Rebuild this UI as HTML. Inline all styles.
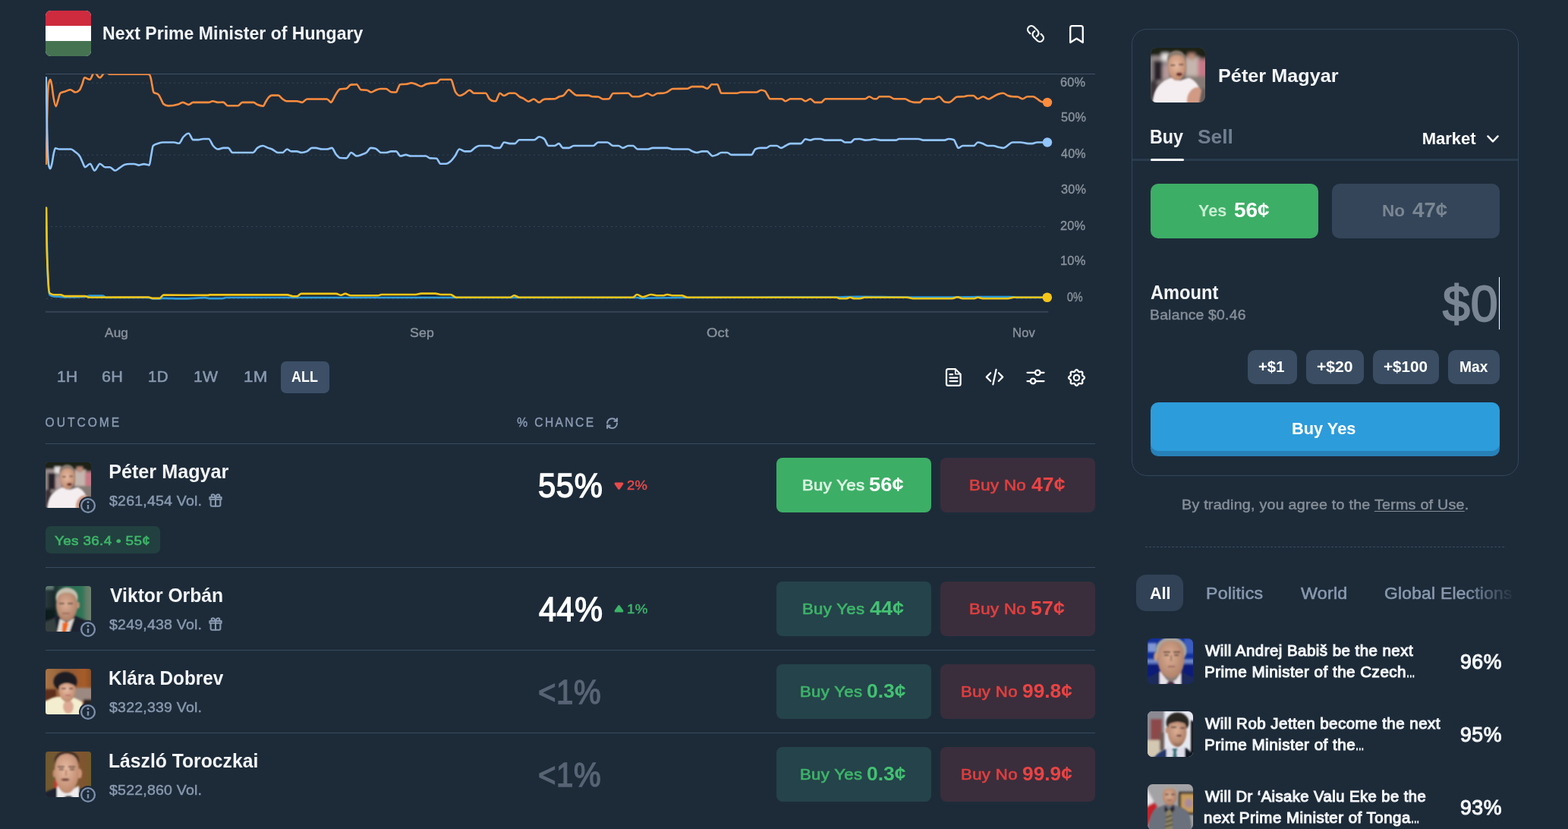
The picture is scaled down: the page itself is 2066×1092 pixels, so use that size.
<!DOCTYPE html>
<html lang="en">
<head>
<meta charset="utf-8">
<title>Next Prime Minister of Hungary</title>
<style>
*{box-sizing:border-box;margin:0;padding:0}
html,body{background:#1d2b39}
body{width:2066px;height:1092px;font-family:"Liberation Sans",sans-serif;color:#fff;-webkit-font-smoothing:antialiased}
.page{position:relative;width:2066px;height:1092px;overflow:hidden;background:#1d2b39}
.a{position:absolute}
.t{position:absolute;white-space:nowrap;line-height:1;transform-origin:0 0}
.b{font-weight:700}
.hl{position:absolute;height:1px;background:#394b5f}
svg{position:absolute;overflow:visible}
.ic{fill:none;stroke:#fff;stroke-linecap:round;stroke-linejoin:round}
</style>
</head>
<body>
<div class="page">
<svg width="0" height="0" style="left:0;top:0" aria-hidden="true">
<defs>
<clipPath id="c60"><rect width="60" height="60" rx="3.500"/></clipPath>
<clipPath id="c60b"><rect width="60" height="60" rx="6.500"/></clipPath>
<filter id="bl" x="-10%" y="-10%" width="120%" height="120%"><feGaussianBlur stdDeviation="0.9"/></filter>
<filter id="bl2" x="-10%" y="-10%" width="120%" height="120%"><feGaussianBlur stdDeviation="1.600"/></filter>
<radialGradient id="skin1" cx="45%" cy="40%" r="65%"><stop offset="0" stop-color="#e8bba2"/><stop offset="1" stop-color="#b98468"/></radialGradient>
<radialGradient id="skin2" cx="45%" cy="40%" r="65%"><stop offset="0" stop-color="#dcae94"/><stop offset="1" stop-color="#a87a62"/></radialGradient>
<linearGradient id="g2" x1="0" x2="1" y1="0" y2="0"><stop offset="0" stop-color="#2a3a3c"/><stop offset="0.18" stop-color="#1a2a2c"/><stop offset="0.45" stop-color="#296650"/><stop offset="0.8" stop-color="#2f7658"/><stop offset="0.9" stop-color="#5f7c66"/><stop offset="1" stop-color="#6f8270"/></linearGradient>
<linearGradient id="g3" x1="0" x2="1" y1="0" y2="0"><stop offset="0" stop-color="#a87446"/><stop offset="0.5" stop-color="#8f5a36"/><stop offset="0.85" stop-color="#a75c28"/><stop offset="1" stop-color="#8a5028"/></linearGradient>
<linearGradient id="g4" x1="0" x2="1" y1="0" y2="0"><stop offset="0" stop-color="#6f5830"/><stop offset="0.5" stop-color="#7a5c38"/><stop offset="0.85" stop-color="#80542e"/><stop offset="1" stop-color="#705c2a"/></linearGradient>
</defs>
</svg>
<!-- header -->
<div class="a" style="left:60px;top:14px;width:60px;height:60px;border-radius:7px;overflow:hidden;background:#fff"><div class="a" style="left:0;top:0;width:60px;height:20px;background:#ce2b3f"></div><div class="a" style="left:0;top:40px;width:60px;height:20px;background:#457352"></div></div>
<div class="t b" style="left:134.6px;top:33px;font-size:23.3px;color:#f4f6fa;transform:scaleX(0.9895);">Next Prime Minister of Hungary</div>
<svg style="left:1352px;top:32px" width="25" height="25" viewBox="0 0 25 25"><path class="ic" stroke-width="2.100" transform="translate(12.500 12.500) scale(-1.067 1.067) translate(-12 -12)" d="M13.190 8.688a4.500 4.500 0 0 1 1.242 7.244l-4.500 4.500a4.500 4.500 0 0 1-6.364-6.364l1.757-1.757m13.350-.622 1.757-1.757a4.500 4.500 0 0 0-6.364-6.364l-4.500 4.500a4.500 4.500 0 0 0 1.242 7.244"/></svg>
<svg style="left:1408px;top:32px" width="21" height="26" viewBox="0 0 21 26"><path class="ic" stroke-width="2.300" d="M2.250 24V4.500a2.400 2.400 0 0 1 2.400-2.400h11.700a2.400 2.400 0 0 1 2.400 2.400V24l-8.250-5.300z"/></svg>
<!-- chart -->
<svg style="left:0;top:0" width="1460" height="460" viewBox="0 0 1460 460">
<defs><clipPath id="cc"><rect x="60" y="97.500" width="1335" height="312"/></clipPath></defs>
<line x1="60" y1="97.500" x2="1443" y2="97.500" stroke="#415266" stroke-width="1"/>
<line x1="61" y1="109.3" x2="1381" y2="109.3" stroke="#46566a" stroke-width="1" stroke-dasharray="2 4" opacity="0.6"/>
<line x1="61" y1="204.2" x2="1381" y2="204.2" stroke="#46566a" stroke-width="1" stroke-dasharray="2 4" opacity="0.6"/>
<line x1="61" y1="298.5" x2="1381" y2="298.5" stroke="#46566a" stroke-width="1" stroke-dasharray="2 4" opacity="0.6"/>
<line x1="61" y1="393.3" x2="1381" y2="393.3" stroke="#46566a" stroke-width="1" stroke-dasharray="2 4" opacity="0.6"/>
<line x1="60" y1="410.800" x2="1381.300" y2="410.800" stroke="#344456" stroke-width="2"/>
<g clip-path="url(#cc)" fill="none" stroke-width="2.600" stroke-linejoin="round" stroke-linecap="round">
<path stroke="#2d9cdb" stroke-width="2.700" d="M61 273.9C61.33 294.47 61.67 315.05 62 330C62.5 352.43 63 363.75 63.5 372C64.17 383 64.83 388.02 65.5 388.5C67.33 389.83 69.17 390.38 71 390.5C74 390.7 77 390.6 80 390.8C81.67 390.91 83.33 391.5 85 391.5C94 391.5 103 391.33 112 391C114 390.93 116 389.6 118 389.6C123.67 389.6 129.33 389.6 135 389.6C136.67 389.6 138.33 391.8 140 391.8C158.33 391.8 176.67 391.8 195 391.8C197 391.8 199 393.3 201 393.3C204 393.3 207 393.3 210 393.3C211.67 393.3 213.33 392.8 215 392.8C223.33 392.8 231.67 393.4 240 393.4C250 393.4 260 392.2 270 392.2C272.33 392.2 274.67 393.2 277 393.2C282.33 393.2 287.67 393.2 293 393.2C294.67 393.2 296.33 392 298 392C398.67 392 499.33 392 600 392C680 392 760 392 840 392C841.67 392 843.33 393 845 393C848.33 393 851.67 392.57 855 392.5C871.67 392.17 888.33 392.09 905 392C970 391.67 1035 391.83 1100 391.5C1110 391.45 1120 390.8 1130 390.8C1151.67 390.8 1173.33 391.5 1195 391.5C1198.33 391.5 1201.67 391.5 1205 391.5C1221.67 391.5 1238.33 391.5 1255 391.5C1266.67 391.5 1278.33 391 1290 391C1303.33 391 1316.67 391 1330 391C1333.33 391 1336.67 391.8 1340 391.8C1353.33 391.8 1366.67 391.8 1380 391.8"/>
<path stroke="#f5c518" d="M60.9 273.9C61.13 290.08 61.37 306.27 61.6 318.6C62.1 345.03 62.6 351.82 63.1 362.5C63.83 378.17 64.57 385.44 65.3 386C67.23 387.47 69.17 388.2 71.1 388.2C74.03 388.2 76.97 388.2 79.9 388.2C81.6 388.2 83.3 390.1 85 390.1C94.03 390.1 103.07 390.1 112.1 390.1C114.07 390.1 116.03 391.8 118 391.8C143.87 391.8 169.73 391.5 195.6 391.5C197.57 391.5 199.53 392.9 201.5 392.9C204.43 392.9 207.37 392.9 210.3 392.9C212 392.9 213.7 388.6 215.4 388.6C235.27 388.6 255.13 388.9 275 388.9C275.17 388.9 275.33 388.4 275.5 388.4C309.83 388.4 344.17 388.4 378.5 388.4C380.97 388.4 383.43 390.2 385.9 390.2C387.73 390.2 389.57 390.2 391.4 390.2C393.23 390.2 395.07 386.9 396.9 386.9C412.23 386.9 427.57 386.9 442.9 386.9C445.03 386.9 447.17 388.8 449.3 388.8C451.13 388.8 452.97 386.9 454.8 386.9C457.27 386.9 459.73 389.3 462.2 389.3C474.17 389.3 486.13 389.3 498.1 389.3C499.63 389.3 501.17 388 502.7 388C517.7 388 532.7 388 547.7 388C550.17 388 552.63 386.6 555.1 386.6C561.23 386.6 567.37 386.6 573.5 386.6C575.93 386.6 578.37 388 580.8 388C585.1 388 589.4 388 593.7 388C596.17 388 598.63 391.7 601.1 391.7C617.4 391.7 633.7 391.7 650 391.7C650.03 391.7 650.07 391.7 650.1 391.7C657.43 391.7 664.77 391.7 672.1 391.7C673.93 391.7 675.77 389.3 677.6 389.3C679.73 389.3 681.87 391.7 684 391.7C733.97 391.7 783.93 391.7 833.9 391.7C835.73 391.7 837.57 388 839.4 388C841.87 388 844.33 391.2 846.8 391.2C850.47 391.2 854.13 388 857.8 388C860.87 388 863.93 389.3 867 389.3C869.17 389.3 871.33 389.3 873.5 389.3C875.33 389.3 877.17 388 879 388C881.77 388 884.53 389.3 887.3 389.3C890.97 389.3 894.63 389.3 898.3 389.3C900.77 389.3 903.23 391.7 905.7 391.7C947.13 391.7 988.57 391.7 1030 391.7C1030.03 391.7 1030.07 391.7 1030.1 391.7C1053.97 391.7 1077.83 391.7 1101.7 391.7C1103.53 391.7 1105.37 393.2 1107.2 393.2C1109.67 393.2 1112.13 393.2 1114.6 393.2C1116.43 393.2 1118.27 391.7 1120.1 391.7C1121.93 391.7 1123.77 393.2 1125.6 393.2C1128.07 393.2 1130.53 393.2 1133 393.2C1135.13 393.2 1137.27 391.7 1139.4 391.7C1158.1 391.7 1176.8 391.7 1195.5 391.7C1197.97 391.7 1200.43 393.2 1202.9 393.2C1220.07 393.2 1237.23 393.2 1254.4 393.2C1256.83 393.2 1259.27 391.2 1261.7 391.2C1263.87 391.2 1266.03 393.2 1268.2 393.2C1273.4 393.2 1278.6 393.2 1283.8 393.2C1285.33 393.2 1286.87 391.7 1288.4 391.7C1290.57 391.7 1292.73 393.2 1294.9 393.2C1305.93 393.2 1316.97 393.2 1328 393.2C1330.43 393.2 1332.87 391.7 1335.3 391.7C1350.03 391.7 1364.77 391.7 1379.5 391.7"/>
<path stroke="#ff8c3d" d="M60.8 215.7C61.1 199.13 61.4 182.57 61.7 168.9C62.03 153.71 62.37 139.66 62.7 130.5C63.2 116.77 63.7 112.33 64.2 109.9C64.9 106.5 65.6 104.8 66.3 104.8C66.9 104.8 67.5 108.09 68.1 111.2C68.87 115.17 69.63 123.44 70.4 127.9C71.47 134.11 72.53 140.1 73.6 140.1C74.47 140.1 75.33 135.54 76.2 133C77.27 129.87 78.33 123.57 79.4 122.8C81.53 121.27 83.67 121.22 85.8 120.5C88.13 119.71 90.47 118.3 92.8 118.3C94.93 118.3 97.07 121.5 99.2 121.5C101.13 121.5 103.07 120.43 105 118.3C106.07 117.12 107.13 113.87 108.2 111.2C109.27 108.53 110.33 102.3 111.4 102.3C113.77 102.3 116.13 104.8 118.5 104.8C119.77 104.8 121.03 100.28 122.3 97.8C122.73 96.95 123.17 95.2 123.6 95.2C124.23 95.2 124.87 95.2 125.5 95.2C126.03 95.2 126.57 97.02 127.1 97.8C128.57 99.95 130.03 102.3 131.5 102.3C132.93 102.3 134.37 99.62 135.8 97.8C136.43 97 137.07 95.2 137.7 95.2C138.97 95.2 140.23 95.2 141.5 95.2C142.17 95.2 142.83 97.6 143.5 97.6C160.57 97.6 177.63 97.6 194.7 97.6C195.37 97.6 196.03 97.8 196.7 98.2C197.33 98.58 197.97 99.92 198.6 102.3C199.23 104.68 199.87 109.3 200.5 112.5C201.13 115.7 201.77 120.87 202.4 121.5C204.53 123.63 206.67 122.57 208.8 124.7C209.9 125.8 211 128.43 212.1 130.5C213.17 132.51 214.23 136.07 215.3 136.9C217.43 138.57 219.57 139.4 221.7 139.4C225.97 139.4 230.23 138.77 234.5 137.5C236.63 136.87 238.77 134.9 240.9 134.9C243.47 134.9 246.03 137.9 248.6 137.9C250.53 137.9 252.47 134.9 254.4 134.9C261.27 134.9 268.13 134.9 275 134.9C276.7 134.9 278.4 133.3 280.1 133.3C282.47 133.3 284.83 134.9 287.2 134.9C289.53 134.9 291.87 134.6 294.2 134.6C296.13 134.6 298.07 139.2 300 139.2C304.5 139.2 309 139.2 313.5 139.2C315.4 139.2 317.3 134.9 319.2 134.9C324.13 134.9 329.07 134.9 334 134.9C335.7 134.9 337.4 137.05 339.1 137.8C341.67 138.93 344.23 139.7 346.8 139.7C347.87 139.7 348.93 136.05 350 134.3C351.07 132.55 352.13 130.53 353.2 129.2C354.9 127.07 356.6 125.6 358.3 125.6C361.1 125.6 363.9 125.6 366.7 125.6C368.6 125.6 370.5 129.19 372.4 130.5C374.13 131.7 375.87 133.3 377.6 133.3C382.07 133.3 386.53 133.3 391 133.3C393.37 133.3 395.73 134.9 398.1 134.9C400.23 134.9 402.37 130.5 404.5 130.5C413.27 130.5 422.03 130.5 430.8 130.5C432.63 130.5 434.47 134.9 436.3 134.9C437.23 134.9 438.17 132.12 439.1 130.5C439.97 129 440.83 127.08 441.7 125.6C443.83 121.95 445.97 117.81 448.1 117.4C450.87 116.87 453.63 117.13 456.4 116.6C458.33 116.23 460.27 111.8 462.2 111.6C464.77 111.33 467.33 111.2 469.9 111.2C471.8 111.2 473.7 118.1 475.6 118.3C478.17 118.57 480.73 118.43 483.3 118.7C485.23 118.9 487.17 121.5 489.1 121.5C491.07 121.5 493.03 119.44 495 118.7C497.13 117.9 499.27 117 501.4 117C503.77 117 506.13 117 508.5 117C510.83 117 513.17 120.98 515.5 121.2C517.63 121.4 519.77 121.5 521.9 121.5C522.77 121.5 523.63 118.12 524.5 116.4C525.37 114.68 526.23 111.28 527.1 111.2C530.07 110.93 533.03 111.07 536 110.8C537.93 110.63 539.87 109.3 541.8 109.3C543.73 109.3 545.67 110.19 547.6 110.8C550.17 111.61 552.73 113.8 555.3 113.8C557.43 113.8 559.57 111.5 561.7 110.8C563.83 110.1 565.97 109.78 568.1 109.6C570.43 109.4 572.77 109.5 575.1 109.3C576.83 109.15 578.57 104.8 580.3 104.8C585 104.8 589.7 104.8 594.4 104.8C595.47 104.8 596.53 110.71 597.6 113.8C598.43 116.21 599.27 119.82 600.1 121.2C602.03 124.4 603.97 126 605.9 126C608.03 126 610.17 124.42 612.3 123.2C614.43 121.98 616.57 118.7 618.7 118.7C620.63 118.7 622.57 122.8 624.5 122.8C629.63 122.8 634.77 122.8 639.9 122.8C641.6 122.8 643.3 128.86 645 130.5C646.93 132.37 648.87 133.3 650.8 133.3C651.63 133.3 652.47 133.3 653.3 133.3C654.17 133.3 655.03 129.65 655.9 127.9C656.77 126.15 657.63 122.8 658.5 122.8C660.4 122.8 662.3 126 664.2 126C666.57 126 668.93 122.8 671.3 122.8C673.63 122.8 675.97 122.8 678.3 122.8C680.43 122.8 682.57 126.28 684.7 127.5C686.43 128.49 688.17 128.9 689.9 129.8C692.03 130.9 694.17 133.7 696.3 133.7C698.63 133.7 700.97 130.5 703.3 130.5C705.67 130.5 708.03 134.9 710.4 134.9C711.93 134.9 713.47 132.48 715 131.7C716.07 131.16 717.13 130.55 718.2 130.5C722.47 130.3 726.73 130.4 731 130.2C732.93 130.11 734.87 128.07 736.8 127.3C738.73 126.53 740.67 126.73 742.6 125.6C744.93 124.23 747.27 118.3 749.6 118.3C750.9 118.3 752.2 120.26 753.5 121.2C755.63 122.74 757.77 125.6 759.9 125.6C765.03 125.6 770.17 125.6 775.3 125.6C777 125.6 778.7 127.21 780.4 127.3C782.97 127.43 785.53 127.37 788.1 127.5C790.23 127.61 792.37 130.5 794.5 130.5C797.07 130.5 799.63 130.4 802.2 130.2C804.1 130.05 806 123.04 807.9 123C814.53 122.87 821.17 122.8 827.8 122.8C829.73 122.8 831.67 127.3 833.6 127.3C836.17 127.3 838.73 127.3 841.3 127.3C843.23 127.3 845.17 126.33 847.1 125.6C849 124.89 850.9 123 852.8 123C855.17 123 857.53 126 859.9 126C862.03 126 864.17 123.11 866.3 123C868.87 122.87 871.43 122.93 874 122.8C875.7 122.71 877.4 121.93 879.1 121.2C881.47 120.18 883.83 117.07 886.2 117C892.8 116.8 899.4 116.9 906 116.7C907.93 116.64 909.87 114.1 911.8 114.1C916.3 114.1 920.8 114.1 925.3 114.1C927.43 114.1 929.57 116.7 931.7 116.7C932.8 116.7 933.9 115.17 935 114.1C935.87 113.26 936.73 111.2 937.6 111.2C940.17 111.2 942.73 111.2 945.3 111.2C946.13 111.2 946.97 115.1 947.8 117C948.67 118.97 949.53 122.8 950.4 122.8C957.23 122.8 964.07 122.8 970.9 122.8C972.6 122.8 974.3 121.5 976 121.5C982.83 121.5 989.67 121.5 996.5 121.5C998.63 121.5 1000.77 118.7 1002.9 118.7C1004.63 118.7 1006.37 119.2 1008.1 120.2C1009.17 120.82 1010.23 123.63 1011.3 125.3C1012.37 126.97 1013.43 130.2 1014.5 130.2C1019.63 130.2 1024.77 130.2 1029.9 130.2C1031.6 130.2 1033.3 133.3 1035 133.3C1037.13 133.3 1039.27 130.2 1041.4 130.2C1046.1 130.2 1050.8 130.2 1055.5 130.2C1057.43 130.2 1059.37 133.3 1061.3 133.3C1063.43 133.3 1065.57 130.2 1067.7 130.2C1069.83 130.2 1071.97 134.9 1074.1 134.9C1076.67 134.9 1079.23 134.9 1081.8 134.9C1083.73 134.9 1085.67 130.2 1087.6 130.2C1105.1 130.2 1122.6 130.2 1140.1 130.2C1141.83 130.2 1143.57 127.3 1145.3 127.3C1147.43 127.3 1149.57 130.2 1151.7 130.2C1152.8 130.2 1153.9 130.2 1155 130.2C1156.27 130.2 1157.53 127.3 1158.8 127.3C1163.1 127.3 1167.4 127.3 1171.7 127.3C1173.83 127.3 1175.97 130.2 1178.1 130.2C1182.8 130.2 1187.5 130.2 1192.2 130.2C1194.33 130.2 1196.47 132.52 1198.6 133.3C1200.73 134.08 1202.87 134.9 1205 134.9C1207.13 134.9 1209.27 134.9 1211.4 134.9C1213.33 134.9 1215.27 130.2 1217.2 130.2C1221.67 130.2 1226.13 130.2 1230.6 130.2C1232.77 130.2 1234.93 127.3 1237.1 127.3C1239.63 127.3 1242.17 133.78 1244.7 134.3C1246.63 134.7 1248.57 134.9 1250.5 134.9C1254.13 134.9 1257.77 127.69 1261.4 127.5C1263.97 127.37 1266.53 127.43 1269.1 127.3C1271.23 127.19 1273.37 126 1275.5 126C1277.87 126 1280.23 126 1282.6 126C1284.5 126 1286.4 130.2 1288.3 130.2C1290.67 130.2 1293.03 127.3 1295.4 127.3C1297.73 127.3 1300.07 130.5 1302.4 130.5C1304.53 130.5 1306.67 128.36 1308.8 127.3C1310.97 126.22 1313.13 124.85 1315.3 124.1C1317.43 123.36 1319.57 122.8 1321.7 122.8C1323.83 122.8 1325.97 125.25 1328.1 126C1330.23 126.75 1332.37 127.17 1334.5 127.3C1336.63 127.43 1338.77 127.37 1340.9 127.5C1343.03 127.63 1345.17 130.2 1347.3 130.2C1349.43 130.2 1351.57 127.3 1353.7 127.3C1356.27 127.3 1358.83 127.3 1361.4 127.3C1363.1 127.3 1364.8 129.18 1366.5 130.2C1368.63 131.48 1370.77 133.94 1372.9 134.3C1375.27 134.7 1377.63 134.8 1380 134.9"/>
<path stroke="#92c5fd" d="M60.8 102.3C61.1 121.75 61.4 141.19 61.7 156.1C62.03 172.67 62.37 184.86 62.7 194.6C63.2 209.22 63.7 215.46 64.2 217.6C64.9 220.6 65.6 222.1 66.3 222.1C67.03 222.1 67.77 218.28 68.5 215.1C69.33 211.49 70.17 204.47 71 201C71.63 198.36 72.27 195.2 72.9 195.2C74.63 195.2 76.37 196.5 78.1 196.5C83.23 196.5 88.37 196.5 93.5 196.5C95.2 196.5 96.9 198.37 98.6 199.7C100.93 201.53 103.27 202.42 105.6 206.7C106.67 208.66 107.73 211.58 108.8 213.8C109.9 216.09 111 220.2 112.1 220.2C114.3 220.2 116.5 215.7 118.7 215.7C120.67 215.7 122.63 224.7 124.6 224.7C126.97 224.7 129.33 215.7 131.7 215.7C133.9 215.7 136.1 220.2 138.3 220.2C140.43 220.2 142.57 220.2 144.7 220.2C147.07 220.2 149.43 224.7 151.8 224.7C153.73 224.7 155.67 222.42 157.6 221.2C159.73 219.86 161.87 217.67 164 217C166.13 216.33 168.27 216 170.4 216C172.53 216 174.67 216 176.8 216C178.93 216 181.07 217.6 183.2 217.6C185.33 217.6 187.47 216.1 189.6 216.1C191.97 216.1 194.33 217.6 196.7 217.6C197.53 217.6 198.37 208.99 199.2 204.8C200.07 200.45 200.93 192.79 201.8 192C204.13 189.87 206.47 189.56 208.8 188.8C210.97 188.1 213.13 187.5 215.3 187.5C220 187.5 224.7 187.5 229.4 187.5C231.53 187.5 233.67 188.8 235.8 188.8C237.7 188.8 239.6 182.61 241.5 180.5C243.87 177.88 246.23 175.7 248.6 175.7C250.53 175.7 252.47 184.1 254.4 184.1C256.73 184.1 259.07 184.1 261.4 184.1C263.53 184.1 265.67 183 267.8 183C270.2 183 272.6 183 275 183C276.93 183 278.87 189.78 280.8 192C282.93 194.45 285.07 196.5 287.2 196.5C289.53 196.5 291.87 194.9 294.2 194.9C296.33 194.9 298.47 194.9 300.6 194.9C302.53 194.9 304.47 201 306.4 201C315.37 201 324.33 201 333.3 201C335.23 201 337.17 196.37 339.1 194.9C341.47 193.1 343.83 192 346.2 192C348.53 192 350.87 194.07 353.2 194.9C354.9 195.51 356.6 195.78 358.3 196.5C360.87 197.58 363.43 201 366 201C368.13 201 370.27 201 372.4 201C374.33 201 376.27 196.5 378.2 196.5C380.13 196.5 382.07 199.4 384 199.4C386.33 199.4 388.67 199.4 391 199.4C393.13 199.4 395.27 201 397.4 201C399.77 201 402.13 200.47 404.5 199.4C406.63 198.44 408.77 194.9 410.9 194.9C412.6 194.9 414.3 194.9 416 194.9C418.8 194.9 421.6 196.5 424.4 196.5C426.53 196.5 428.67 196.5 430.8 196.5C432.93 196.5 435.07 194.9 437.2 194.9C439.1 194.9 441 201.27 442.9 203.5C444.63 205.53 446.37 207.83 448.1 208C450.87 208.27 453.63 208.4 456.4 208.4C458.53 208.4 460.67 201 462.8 201C465.17 201 467.53 205.5 469.9 205.5C472.03 205.5 474.17 204.55 476.3 203.8C478.43 203.05 480.57 202.62 482.7 201C484.63 199.53 486.57 194.9 488.5 194.9C490.67 194.9 492.83 195.2 495 195.8C497.37 196.46 499.73 201 502.1 201C504.23 201 506.37 201 508.5 201C510.83 201 513.17 199.4 515.5 199.4C517.63 199.4 519.77 199.4 521.9 199.4C523.83 199.4 525.77 205.5 527.7 205.5C530.03 205.5 532.37 203.9 534.7 203.9C536.87 203.9 539.03 205.5 541.2 205.5C547.8 205.5 554.4 205.5 561 205.5C562.93 205.5 564.87 208.26 566.8 208.4C569.57 208.6 572.33 208.5 575.1 208.7C576.83 208.83 578.57 215.7 580.3 215.7C582.63 215.7 584.97 215.7 587.3 215.7C589.43 215.7 591.57 214.36 593.7 212.5C595.63 210.82 597.57 208.17 599.5 205.5C601.43 202.83 603.37 196.5 605.3 196.5C607.63 196.5 609.97 199.4 612.3 199.4C614.67 199.4 617.03 199.4 619.4 199.4C621.53 199.4 623.67 195.87 625.8 194.6C627.7 193.47 629.6 192 631.5 192C636 192 640.5 192 645 192C647.13 192 649.27 194.9 651.4 194.9C653.77 194.9 656.13 194.9 658.5 194.9C660.4 194.9 662.3 187.5 664.2 187.5C666.77 187.5 669.33 189.1 671.9 189.1C674.03 189.1 676.17 189.1 678.3 189.1C680.23 189.1 682.17 184.3 684.1 184.3C690.73 184.3 697.37 184.3 704 184.3C706.13 184.3 708.27 180.2 710.4 180.2C711.93 180.2 713.47 180.77 715 181.7C715.87 182.23 716.73 182.78 717.6 183.7C719.3 185.5 721 192 722.7 192C725.47 192 728.23 192 731 192C732.73 192 734.47 189.1 736.2 189.1C738.1 189.1 740 194.9 741.9 194.9C744.47 194.9 747.03 194.9 749.6 194.9C751.73 194.9 753.87 192 756 192C764.57 192 773.13 192 781.7 192C783.83 192 785.97 187.5 788.1 187.5C792.17 187.5 796.23 187.5 800.3 187.5C802.83 187.5 805.37 192 807.9 192C810.27 192 812.63 192 815 192C816.93 192 818.87 194.9 820.8 194.9C823.13 194.9 825.47 192 827.8 192C829.93 192 832.07 192 834.2 192C836.13 192 838.07 196.5 840 196.5C844.5 196.5 849 196.5 853.5 196.5C855.63 196.5 857.77 194.9 859.9 194.9C866.3 194.9 872.7 194.9 879.1 194.9C881.67 194.9 884.23 196.5 886.8 196.5C893.43 196.5 900.07 196.5 906.7 196.5C908.6 196.5 910.5 198.63 912.4 199.4C914.13 200.1 915.87 201 917.6 201C920.17 201 922.73 199.4 925.3 199.4C927.43 199.4 929.57 199.4 931.7 199.4C932.8 199.4 933.9 201.35 935 202.3C936.27 203.39 937.53 205.5 938.8 205.5C940.73 205.5 942.67 204.65 944.6 203.9C946.53 203.15 948.47 201 950.4 201C952.97 201 955.53 201 958.1 201C960 201 961.9 203.9 963.8 203.9C972.57 203.9 981.33 203.9 990.1 203.9C991.83 203.9 993.57 197.37 995.3 196.5C997.43 195.43 999.57 194.9 1001.7 194.9C1004.27 194.9 1006.83 194.9 1009.4 194.9C1011.3 194.9 1013.2 192 1015.1 192C1017.9 192 1020.7 192 1023.5 192C1025.4 192 1027.3 194.9 1029.2 194.9C1031.13 194.9 1033.07 192.92 1035 192C1037.13 190.98 1039.27 189.1 1041.4 189.1C1045.9 189.1 1050.4 189.1 1054.9 189.1C1057.03 189.1 1059.17 183.3 1061.3 183.3C1063.43 183.3 1065.57 184.6 1067.7 184.6C1069.63 184.6 1071.57 183 1073.5 183C1076.07 183 1078.63 183 1081.2 183C1083.1 183 1085 184.6 1086.9 184.6C1093.97 184.6 1101.03 184.6 1108.1 184.6C1109.8 184.6 1111.5 187.5 1113.2 187.5C1115.77 187.5 1118.33 187.5 1120.9 187.5C1122.6 187.5 1124.3 183.46 1126 183.3C1128.13 183.1 1130.27 183 1132.4 183C1134.97 183 1137.53 184.6 1140.1 184.6C1142.23 184.6 1144.37 184.5 1146.5 184.3C1148.23 184.14 1149.97 183.3 1151.7 183.3C1152.8 183.3 1153.9 183.54 1155 183.7C1156.7 183.94 1158.4 184.6 1160.1 184.6C1166.93 184.6 1173.77 184.6 1180.6 184.6C1181.9 184.6 1183.2 183 1184.5 183C1193.03 183 1201.57 183 1210.1 183C1212.23 183 1214.37 184.6 1216.5 184.6C1225.9 184.6 1235.3 184.6 1244.7 184.6C1246.43 184.6 1248.17 183 1249.9 183C1252.23 183 1254.57 183.43 1256.9 184.3C1257.9 184.67 1258.9 188.28 1259.9 190.1C1260.83 191.8 1261.77 194.9 1262.7 194.9C1264.63 194.9 1266.57 192 1268.5 192C1273.4 192 1278.3 192 1283.2 192C1284.9 192 1286.6 187.5 1288.3 187.5C1290.43 187.5 1292.57 188.36 1294.7 189.1C1296.87 189.85 1299.03 192 1301.2 192C1303.73 192 1306.27 192 1308.8 192C1310.97 192 1313.13 193.21 1315.3 193.7C1317.43 194.18 1319.57 194.9 1321.7 194.9C1325.97 194.9 1330.23 187.5 1334.5 187.5C1337.9 187.5 1341.3 187.5 1344.7 187.5C1348.13 187.5 1351.57 189.1 1355 189.1C1356.7 189.1 1358.4 189.1 1360.1 189.1C1362.23 189.1 1364.37 187.5 1366.5 187.5C1371 187.5 1375.5 187.5 1380 187.5"/>
</g>
<circle cx="1380" cy="134.900" r="6.200" fill="#ff8c3d"/><circle cx="1380" cy="187.500" r="6.200" fill="#92c5fd"/><circle cx="1379.800" cy="391.700" r="6.300" fill="#f5c518"/>
</svg>
<div class="t" style="left:1397.39px;top:100px;font-size:16.5px;color:#89929b;letter-spacing:0.18px;transform:scaleX(0.9905);-webkit-text-stroke:0.41px;">60%</div>
<div class="t" style="left:1397.55px;top:146px;font-size:16.5px;color:#89929b;letter-spacing:0.18px;transform:scaleX(0.9854);-webkit-text-stroke:0.41px;">50%</div>
<div class="t" style="left:1397.88px;top:194px;font-size:16.5px;color:#89929b;letter-spacing:0.18px;transform:scaleX(0.9754);-webkit-text-stroke:0.41px;">40%</div>
<div class="t" style="left:1397.64px;top:241px;font-size:16.5px;color:#89929b;letter-spacing:0.18px;transform:scaleX(0.9828);-webkit-text-stroke:0.41px;">30%</div>
<div class="t" style="left:1397.39px;top:289px;font-size:16.5px;color:#89929b;letter-spacing:0.18px;transform:scaleX(0.9905);-webkit-text-stroke:0.41px;">20%</div>
<div class="t" style="left:1396.96px;top:335px;font-size:16.5px;color:#89929b;letter-spacing:0.18px;-webkit-text-stroke:0.41px;">10%</div>
<div class="t" style="left:1405.61px;top:383px;font-size:16.5px;color:#89929b;letter-spacing:0.18px;transform:scaleX(0.8560);-webkit-text-stroke:0.41px;">0%</div>
<div class="t" style="left:137.81px;top:430px;font-size:17px;color:#89929b;letter-spacing:0.19px;transform:scaleX(1.0095);-webkit-text-stroke:0.43px;">Aug</div>
<div class="t" style="left:540.12px;top:430px;font-size:17px;color:#89929b;letter-spacing:0.19px;transform:scaleX(1.0414);-webkit-text-stroke:0.43px;">Sep</div>
<div class="t" style="left:931.18px;top:430px;font-size:17px;color:#89929b;letter-spacing:0.19px;transform:scaleX(1.0868);-webkit-text-stroke:0.43px;">Oct</div>
<div class="t" style="left:1333.99px;top:430px;font-size:17px;color:#89929b;letter-spacing:0.19px;transform:scaleX(0.9733);-webkit-text-stroke:0.43px;">Nov</div>
<!-- range buttons -->
<div class="t" style="left:74.68px;top:486px;font-size:20.3px;color:#8999af;letter-spacing:0.23px;transform:scaleX(1.0346);-webkit-text-stroke:0.51px;">1H</div>
<div class="t" style="left:134.27px;top:486px;font-size:20.3px;color:#8999af;letter-spacing:0.23px;transform:scaleX(1.0674);-webkit-text-stroke:0.51px;">6H</div>
<div class="t" style="left:194.61px;top:486px;font-size:20.3px;color:#8999af;letter-spacing:0.23px;transform:scaleX(1.0122);-webkit-text-stroke:0.51px;">1D</div>
<div class="t" style="left:254.56px;top:486px;font-size:20.3px;color:#8999af;letter-spacing:0.23px;transform:scaleX(1.0483);-webkit-text-stroke:0.51px;">1W</div>
<div class="t" style="left:320.58px;top:486px;font-size:20.3px;color:#8999af;letter-spacing:0.23px;transform:scaleX(1.1013);-webkit-text-stroke:0.51px;">1M</div>
<div class="a" style="left:370px;top:476px;width:64px;height:42px;background:#3c4f66;border-radius:7px;"></div>
<div class="t b" style="left:384.04px;top:486px;font-size:20.5px;transform:scaleX(0.8738);">ALL</div>
<svg style="left:1245px;top:484px" width="23" height="25" viewBox="0 0 23 25"><g class="ic" stroke-width="2.25"><path d="M4.4 2h9.2l7 7v12.4a2.4 2.4 0 0 1-2.4 2.4H4.4A2.4 2.4 0 0 1 2 21.4V4.4A2.4 2.4 0 0 1 4.400 2z"/><path d="M13.8 2.4v6.4h6.4" stroke-width="1.6"/><path d="M6.5 9.2h3.6M6.5 13.6h10M6.5 18h10"/></g></svg>
<svg style="left:1298px;top:485px" width="25" height="23" viewBox="0 0 25 23"><g class="ic" stroke-width="2.25"><path d="M7.2 6.2L1.8 11.6l5.4 5.4M17.8 6.2l5.4 5.400-5.400 5.400M14.600 1.800l-4.200 19.500"/></g></svg>
<svg style="left:1352px;top:485px" width="25" height="23" viewBox="0 0 25 23"><g class="ic" stroke-width="2.25"><path d="M1.500 5.800h9.800M19 5.800h4.500M1.500 17h4M12.500 17h11"/><circle cx="15.300" cy="5.800" r="3.300"/><circle cx="9.100" cy="17" r="3.300"/></g></svg>
<svg style="left:1406.100px;top:484.500px" width="25" height="25" viewBox="0 0 25 25"><g class="ic" stroke-width="2.25"><path d="M12.50 2.00 L13.50 2.39 L14.32 3.33 L14.98 4.33 L15.64 4.92 L16.52 4.97 L17.69 4.73 L18.95 4.64 L19.92 5.08 L20.36 6.05 L20.27 7.31 L20.03 8.48 L20.08 9.36 L20.67 10.02 L21.67 10.68 L22.61 11.50 L23.00 12.50 L22.61 13.50 L21.67 14.32 L20.67 14.98 L20.08 15.64 L20.03 16.52 L20.27 17.69 L20.36 18.95 L19.92 19.92 L18.95 20.36 L17.69 20.27 L16.52 20.03 L15.64 20.08 L14.98 20.67 L14.32 21.67 L13.50 22.61 L12.50 23.00 L11.50 22.61 L10.68 21.67 L10.02 20.67 L9.36 20.08 L8.48 20.03 L7.31 20.27 L6.05 20.36 L5.08 19.92 L4.64 18.95 L4.73 17.69 L4.97 16.52 L4.92 15.64 L4.33 14.98 L3.33 14.32 L2.39 13.50 L2.00 12.50 L2.39 11.50 L3.33 10.68 L4.33 10.02 L4.92 9.36 L4.97 8.48 L4.73 7.31 L4.64 6.05 L5.08 5.08 L6.05 4.64 L7.31 4.73 L8.48 4.97 L9.36 4.92 L10.02 4.33 L10.68 3.33 L11.50 2.39Z"/><circle cx="12.5" cy="12.5" r="3.700"/></g></svg>
<!-- outcome table -->
<div class="t" style="left:59.59px;top:549px;font-size:15.6px;color:#8b9bb3;letter-spacing:2.97px;-webkit-text-stroke:0.39px;">OUTCOME</div>
<div class="t" style="left:681.25px;top:549px;font-size:15.6px;color:#8b9bb3;letter-spacing:2.4px;-webkit-text-stroke:0.39px;">% CHANCE</div>
<svg style="left:797.800px;top:549px" width="17.200" height="17.200" viewBox="0 0 24 24"><g class="ic" style="stroke:#8b9bb3" stroke-width="2.800"><path d="M3 12a9 9 0 0 1 9-9 9.750 9.750 0 0 1 6.740 2.740L21 8"/><path d="M21 3v5h-5"/><path d="M21 12a9 9 0 0 1-9 9 9.750 9.750 0 0 1-6.740-2.740L3 16"/><path d="M8 16H3v5"/></g></svg>
<div class="hl" style="left:60px;top:584px;width:1383px"></div>
<div class="hl" style="left:60px;top:747px;width:1383px"></div>
<div class="hl" style="left:60px;top:856px;width:1383px"></div>
<div class="hl" style="left:60px;top:965px;width:1383px"></div>
<!-- row Péter Magyar -->
<svg style="left:60px;top:609px" width="60" height="60" viewBox="0 0 60 60"><g clip-path="url(#c60)"><rect width="60" height="60" fill="#6a5f5c"/><g filter="url(#bl2)"><rect x="-4" y="-4" width="68" height="15" fill="#1b2117"/><rect x="0" y="9" width="22" height="30" fill="#9a8e8e"/><rect x="3" y="14" width="10" height="22" fill="#25222b"/><rect x="12" y="6" width="8" height="8" fill="#e6e2e2"/><rect x="13" y="20" width="8" height="14" fill="#b59a9a"/><rect x="38" y="10" width="15" height="24" fill="#c4b6ae"/><rect x="41" y="6" width="8" height="7" fill="#b98a78"/><rect x="52" y="13" width="10" height="30" fill="#c77886"/><rect x="38" y="31" width="24" height="14" fill="#857a74"/><rect x="0" y="36" width="7" height="26" fill="#3a3338"/></g><g filter="url(#bl)"><path d="M2 62C3 46 9 38 22 33l10 3 10-3c6 2 9 6 12 12l-6 17z" fill="#f4eef0"/><path d="M40 62c-1-8 2-15 8-18 4-2 7 0 8 3l-3 15z" fill="#d19a84"/><ellipse cx="28.500" cy="12" rx="10" ry="9" fill="#8b7c70"/><path d="M29 8C36.35 8 38.8 12.9 38.8 20.6C38.8 28.3 34.39 36 29 36C23.61 36 19.2 28.3 19.2 20.6C19.2 12.9 21.65 8 29 8z" fill="url(#skin1)"/><ellipse cx="31.500" cy="29" rx="3.300" ry="2" fill="#6a2a2a"/><path d="M22 19h5M31 18.500h5" stroke="#5a4038" stroke-width="1.400"/></g></g></svg>
<svg style="left:103.600px;top:653.7px" width="24" height="24" viewBox="0 0 24 24"><circle cx="12" cy="12" r="12" fill="#1d2b39"/><circle cx="12" cy="12" r="8.900" fill="none" stroke="#7d8fab" stroke-width="2.300"/><path d="M12 11v5.700" stroke="#7d8fab" stroke-width="2.400" fill="none"/><circle cx="12" cy="7.500" r="1.500" fill="#7d8fab"/></svg>
<div class="t b" style="left:143.16px;top:609px;font-size:25.2px;color:#f4f6fa;">Péter Magyar</div>
<div class="t" style="left:144.13px;top:651px;font-size:18.5px;color:#8999af;letter-spacing:0.21px;transform:scaleX(1.0542);-webkit-text-stroke:0.46px;">$261,454 Vol.</div>
<svg style="left:274.800px;top:649.6px" width="18" height="18" viewBox="0 0 19 19"><g class="ic" style="stroke:#8999af" stroke-width="2.200"><path d="M2.800 8.200v8a1.400 1.400 0 0 0 1.400 1.400h10.600a1.400 1.400 0 0 0 1.400-1.400v-8"/><path d="M1.400 5.200h16.200v3H1.400zM9.500 5.200v12.400"/><path d="M9.500 5.200C8.500 2.600 7.200 1.400 5.800 1.400a1.900 1.900 0 0 0 0 3.800M9.500 5.200c1-2.600 2.300-3.800 3.700-3.800a1.900 1.900 0 0 1 0 3.800"/></g></svg>
<div class="t" style="left:708.93px;top:618px;font-size:43.7px;letter-spacing:0.63px;transform:scaleX(0.9557);-webkit-text-stroke:1.4px;">55%</div>
<svg style="left:809.200px;top:634.5px" width="13" height="11" viewBox="0 0 13 11"><path d="M2.100 2.100h8.800L6.500 8.500z" fill="#e84a4a" stroke="#e84a4a" stroke-width="3" stroke-linejoin="round"/></svg>
<div class="t" style="left:825.99px;top:631px;font-size:17.2px;color:#e84a4a;letter-spacing:0.19px;transform:scaleX(1.0749);-webkit-text-stroke:0.43px;">2%</div>
<div class="a" style="left:1023px;top:603px;width:204px;height:72px;background:#3dae66;border-radius:8px;"></div>
<div class="a" style="left:1239.4px;top:603px;width:203.6px;height:72px;background:#3a2e3c;border-radius:8px;"></div>
<div class="t" style="left:1056.88px;top:629px;font-size:20.8px;color:#dcf5e3;letter-spacing:0.32px;transform:scaleX(1.0642);-webkit-text-stroke:0.7px;">Buy Yes</div>
<div class="t b" style="left:1145.38px;top:626px;font-size:25.3px;transform:scaleX(1.0802);">56¢</div>
<div class="t" style="left:1277.27px;top:629px;font-size:20.8px;color:#e03f3f;letter-spacing:0.32px;transform:scaleX(1.0700);-webkit-text-stroke:0.7px;">Buy No</div>
<div class="t b" style="left:1358.5px;top:626px;font-size:25.3px;color:#ec4343;transform:scaleX(1.0533);">47¢</div>
<!-- row Viktor Orbán -->
<svg style="left:60px;top:772px" width="60" height="60" viewBox="0 0 60 60"><g clip-path="url(#c60)"><rect width="60" height="60" fill="url(#g2)"/><g filter="url(#bl2)"><rect x="-2" y="-3" width="13" height="8" fill="#5f7872"/><rect x="-3" y="30" width="16" height="16" fill="#0f1a1c"/></g><g filter="url(#bl)"><path d="M-2 62V47c6-3 12-5 17-8h24c6 3 13 6 23 9v14z" fill="#1c232e"/><path d="M-2 62V48c5-2 10-4 14-6l4 20z" fill="#363f40"/><path d="M15 62l4-19 9 5 10-6-7 20z" fill="#dedad4"/><path d="M22.500 48.500l5.500-1.500 2 3-3.500 12h-5z" fill="#f0691c"/><ellipse cx="28" cy="15" rx="14.500" ry="13" fill="#c4bfae"/><ellipse cx="42.500" cy="25" rx="2.300" ry="4.500" fill="#c4947c"/><path d="M28 8.5C38.5 8.5 42 15.15 42 25.6C42 36.05 35.7 46.5 28 46.5C20.3 46.5 14 36.05 14 25.6C14 15.15 17.5 8.5 28 8.5z" fill="url(#skin2)"/><path d="M18 23h7M29 23h7" stroke="#4a3530" stroke-width="1.600"/><path d="M22 36h10" stroke="#8a5a50" stroke-width="1.300"/></g></g></svg>
<svg style="left:103.600px;top:816.7px" width="24" height="24" viewBox="0 0 24 24"><circle cx="12" cy="12" r="12" fill="#1d2b39"/><circle cx="12" cy="12" r="8.900" fill="none" stroke="#7d8fab" stroke-width="2.300"/><path d="M12 11v5.700" stroke="#7d8fab" stroke-width="2.400" fill="none"/><circle cx="12" cy="7.500" r="1.500" fill="#7d8fab"/></svg>
<div class="t b" style="left:144.68px;top:772px;font-size:25.2px;color:#f4f6fa;transform:scaleX(0.9806);">Viktor Orbán</div>
<div class="t" style="left:144.13px;top:814px;font-size:18.5px;color:#8999af;letter-spacing:0.21px;transform:scaleX(1.0542);-webkit-text-stroke:0.46px;">$249,438 Vol.</div>
<svg style="left:274.800px;top:812.6px" width="18" height="18" viewBox="0 0 19 19"><g class="ic" style="stroke:#8999af" stroke-width="2.200"><path d="M2.800 8.200v8a1.400 1.400 0 0 0 1.400 1.400h10.600a1.400 1.400 0 0 0 1.400-1.400v-8"/><path d="M1.400 5.200h16.200v3H1.400zM9.500 5.200v12.400"/><path d="M9.500 5.200C8.500 2.600 7.200 1.400 5.800 1.400a1.900 1.900 0 0 0 0 3.800M9.500 5.200c1-2.600 2.300-3.800 3.700-3.800a1.900 1.900 0 0 1 0 3.800"/></g></svg>
<div class="t" style="left:709.77px;top:781px;font-size:43.7px;letter-spacing:0.63px;transform:scaleX(0.9461);-webkit-text-stroke:1.4px;">44%</div>
<svg style="left:809.200px;top:796.4px" width="13" height="11" viewBox="0 0 13 11"><path d="M2.100 8.900h8.800L6.500 2.500z" fill="#3db469" stroke="#3db469" stroke-width="3" stroke-linejoin="round"/></svg>
<div class="t" style="left:825.5px;top:794px;font-size:17.2px;color:#3db469;letter-spacing:0.19px;transform:scaleX(1.0949);-webkit-text-stroke:0.43px;">1%</div>
<div class="a" style="left:1023px;top:766px;width:204px;height:72px;background:#25434a;border-radius:8px;"></div>
<div class="a" style="left:1239.4px;top:766px;width:203.6px;height:72px;background:#3a2e3c;border-radius:8px;"></div>
<div class="t" style="left:1056.88px;top:792px;font-size:20.8px;color:#3db469;letter-spacing:0.32px;transform:scaleX(1.0642);-webkit-text-stroke:0.7px;">Buy Yes</div>
<div class="t b" style="left:1145.79px;top:789px;font-size:25.3px;color:#43c172;transform:scaleX(1.0703);">44¢</div>
<div class="t" style="left:1277.27px;top:792px;font-size:20.8px;color:#e03f3f;letter-spacing:0.32px;transform:scaleX(1.0700);-webkit-text-stroke:0.7px;">Buy No</div>
<div class="t b" style="left:1358.09px;top:789px;font-size:25.3px;color:#ec4343;transform:scaleX(1.0631);">57¢</div>
<!-- row Klára Dobrev -->
<svg style="left:60px;top:881px" width="60" height="60" viewBox="0 0 60 60"><g clip-path="url(#c60)"><rect width="60" height="60" fill="url(#g3)"/><g filter="url(#bl2)"><rect x="36" y="25" width="26" height="18" fill="#9c8a82"/><rect x="-2" y="27" width="16" height="15" fill="#5c2f1c"/><rect x="50" y="40" width="12" height="10" fill="#2a2024"/></g><g filter="url(#bl)"><path d="M-2 62V44c5-3 10-6 16-7h20c6 2 11 4 15 7l-2 18z" fill="#f4eed0"/><ellipse cx="30" cy="50" rx="7" ry="9" fill="#dcaa94"/><ellipse cx="26" cy="17" rx="15.500" ry="13" fill="#1f1c24"/><path d="M28.5 16.5C36.75 16.5 39.5 21.225 39.5 28.65C39.5 36.075 34.55 43.5 28.5 43.5C22.45 43.5 17.5 36.075 17.5 28.65C17.5 21.225 20.25 16.5 28.5 16.5z" fill="url(#skin1)"/><path d="M16 24c2-7 7-10 13-9 5 0 8 3 10 8-4-3-7-4-11-4-5 0-8 2-12 5z" fill="#1f1c24"/><path d="M21 26h6M31 26h5" stroke="#4a2f30" stroke-width="1.300"/><path d="M26 35h7" stroke="#b05560" stroke-width="1.300"/></g></g></svg>
<svg style="left:103.600px;top:925.7px" width="24" height="24" viewBox="0 0 24 24"><circle cx="12" cy="12" r="12" fill="#1d2b39"/><circle cx="12" cy="12" r="8.900" fill="none" stroke="#7d8fab" stroke-width="2.300"/><path d="M12 11v5.700" stroke="#7d8fab" stroke-width="2.400" fill="none"/><circle cx="12" cy="7.500" r="1.500" fill="#7d8fab"/></svg>
<div class="t b" style="left:143.22px;top:881px;font-size:25.2px;color:#f4f6fa;transform:scaleX(0.9652);">Klára Dobrev</div>
<div class="t" style="left:144.13px;top:923px;font-size:18.5px;color:#8999af;letter-spacing:0.21px;transform:scaleX(1.0542);-webkit-text-stroke:0.46px;">$322,339 Vol.</div>
<div class="t" style="left:708.79px;top:890px;font-size:43.7px;color:#586474;letter-spacing:0.63px;transform:scaleX(0.9204);-webkit-text-stroke:1.4px;">&lt;1%</div>
<div class="a" style="left:1023px;top:875px;width:204px;height:72px;background:#25434a;border-radius:8px;"></div>
<div class="a" style="left:1239.4px;top:875px;width:203.6px;height:72px;background:#3a2e3c;border-radius:8px;"></div>
<div class="t" style="left:1053.98px;top:901px;font-size:20.8px;color:#3db469;letter-spacing:0.32px;transform:scaleX(1.0629);-webkit-text-stroke:0.7px;">Buy Yes</div>
<div class="t b" style="left:1142.47px;top:898px;font-size:25.3px;color:#43c172;transform:scaleX(1.0456);">0.3¢</div>
<div class="t" style="left:1266.47px;top:901px;font-size:20.8px;color:#e03f3f;letter-spacing:0.32px;transform:scaleX(1.0670);-webkit-text-stroke:0.7px;">Buy No</div>
<div class="t b" style="left:1347.11px;top:898px;font-size:25.3px;color:#ec4343;transform:scaleX(1.0400);">99.8¢</div>
<!-- row László Toroczkai -->
<svg style="left:60px;top:990px" width="60" height="60" viewBox="0 0 60 60"><g clip-path="url(#c60)"><rect width="60" height="60" fill="url(#g4)"/><g filter="url(#bl2)"><rect x="11" y="38" width="6" height="13" fill="#c6392c"/></g><g filter="url(#bl)"><path d="M-2 62v-8c5-2 10-4 15-6h30c6 2 12 4 19 7v7z" fill="#1a2030"/><path d="M15 62V45l13 9 16-9v17z" fill="#eeeced"/><path d="M22 62l6-4h5l5 4z" fill="#1c2238"/><ellipse cx="28" cy="12" rx="16" ry="13" fill="#3d2c22"/><ellipse cx="45" cy="29" rx="3" ry="6.500" fill="#cf987c"/><ellipse cx="11.500" cy="29" rx="2" ry="5" fill="#c08a70"/><path d="M28 3C40 3 44 12.1 44 26.4C44 40.7 36.8 55 28 55C19.2 55 12 40.7 12 26.4C12 12.1 16 3 28 3z" fill="url(#skin1)"/><path d="M16 20h9M30 20h9" stroke="#4a332c" stroke-width="1.700"/><path d="M18 23.500h6M32 23.500h6" stroke="#3a2a26" stroke-width="1.300"/><ellipse cx="26" cy="37" rx="5.500" ry="1.700" fill="#6a3a36"/><path d="M27 24v8" stroke="#c08a70" stroke-width="2.500"/></g></g></svg>
<svg style="left:103.600px;top:1034.7px" width="24" height="24" viewBox="0 0 24 24"><circle cx="12" cy="12" r="12" fill="#1d2b39"/><circle cx="12" cy="12" r="8.900" fill="none" stroke="#7d8fab" stroke-width="2.300"/><path d="M12 11v5.700" stroke="#7d8fab" stroke-width="2.400" fill="none"/><circle cx="12" cy="7.500" r="1.500" fill="#7d8fab"/></svg>
<div class="t b" style="left:143.19px;top:990px;font-size:25.2px;color:#f4f6fa;transform:scaleX(0.9811);">László Toroczkai</div>
<div class="t" style="left:144.13px;top:1032px;font-size:18.5px;color:#8999af;letter-spacing:0.21px;transform:scaleX(1.0542);-webkit-text-stroke:0.46px;">$522,860 Vol.</div>
<div class="t" style="left:708.79px;top:999px;font-size:43.7px;color:#586474;letter-spacing:0.63px;transform:scaleX(0.9204);-webkit-text-stroke:1.4px;">&lt;1%</div>
<div class="a" style="left:1023px;top:984px;width:204px;height:72px;background:#25434a;border-radius:8px;"></div>
<div class="a" style="left:1239.4px;top:984px;width:203.6px;height:72px;background:#3a2e3c;border-radius:8px;"></div>
<div class="t" style="left:1053.98px;top:1010px;font-size:20.8px;color:#3db469;letter-spacing:0.32px;transform:scaleX(1.0629);-webkit-text-stroke:0.7px;">Buy Yes</div>
<div class="t b" style="left:1142.47px;top:1007px;font-size:25.3px;color:#43c172;transform:scaleX(1.0456);">0.3¢</div>
<div class="t" style="left:1266.47px;top:1010px;font-size:20.8px;color:#e03f3f;letter-spacing:0.32px;transform:scaleX(1.0670);-webkit-text-stroke:0.7px;">Buy No</div>
<div class="t b" style="left:1347.11px;top:1007px;font-size:25.3px;color:#ec4343;transform:scaleX(1.0400);">99.9¢</div>
<div class="a" style="left:60.3px;top:693.2px;width:150.5px;height:35.7px;background:#22403f;border-radius:7px;"></div>
<div class="t" style="left:72.36px;top:704px;font-size:17px;color:#3db469;letter-spacing:0.31px;transform:scaleX(1.1096);-webkit-text-stroke:0.68px;">Yes 36.4 • 55¢</div>
<!-- trade card -->
<div class="a" style="left:1491px;top:38px;width:510px;height:589px;border:1px solid #344659;border-radius:20px"></div>
<svg style="left:1516px;top:63px" width="72" height="72" viewBox="0 0 60 60"><g clip-path="url(#c60b)"><rect width="60" height="60" fill="#6a5f5c"/><g filter="url(#bl2)"><rect x="-4" y="-4" width="68" height="15" fill="#1b2117"/><rect x="0" y="9" width="22" height="30" fill="#9a8e8e"/><rect x="3" y="14" width="10" height="22" fill="#25222b"/><rect x="12" y="6" width="8" height="8" fill="#e6e2e2"/><rect x="13" y="20" width="8" height="14" fill="#b59a9a"/><rect x="38" y="10" width="15" height="24" fill="#c4b6ae"/><rect x="41" y="6" width="8" height="7" fill="#b98a78"/><rect x="52" y="13" width="10" height="30" fill="#c77886"/><rect x="38" y="31" width="24" height="14" fill="#857a74"/><rect x="0" y="36" width="7" height="26" fill="#3a3338"/></g><g filter="url(#bl)"><path d="M2 62C3 46 9 38 22 33l10 3 10-3c6 2 9 6 12 12l-6 17z" fill="#f4eef0"/><path d="M40 62c-1-8 2-15 8-18 4-2 7 0 8 3l-3 15z" fill="#d19a84"/><ellipse cx="28.500" cy="12" rx="10" ry="9" fill="#8b7c70"/><path d="M29 8C36.35 8 38.8 12.9 38.8 20.6C38.8 28.3 34.39 36 29 36C23.61 36 19.2 28.3 19.2 20.6C19.2 12.9 21.65 8 29 8z" fill="url(#skin1)"/><ellipse cx="31.500" cy="29" rx="3.300" ry="2" fill="#6a2a2a"/><path d="M22 19h5M31 18.500h5" stroke="#5a4038" stroke-width="1.400"/></g></g></svg>
<div class="t b" style="left:1604.76px;top:88px;font-size:24.3px;color:#f4f6fa;transform:scaleX(1.0392);">Péter Magyar</div>
<div class="t b" style="left:1515.19px;top:168px;font-size:25px;color:#f4f6fa;transform:scaleX(0.9303);">Buy</div>
<div class="t b" style="left:1578.04px;top:168px;font-size:25px;color:#707e8f;transform:scaleX(1.0558);">Sell</div>
<div class="a" style="left:1492px;top:209px;width:508px;height:3px;background:#2a3c4e;"></div>
<div class="a" style="left:1516px;top:208.5px;width:44px;height:3.5px;background:#fff;border-radius:2px;"></div>
<div class="t b" style="left:1873.67px;top:172px;font-size:22px;">Market</div>
<svg style="left:1958px;top:176px" width="18" height="14" viewBox="0 0 18 14"><path class="ic" stroke-width="2.400" d="M2.400 3.400L9 10.400l6.600-7"/></svg>
<div class="a" style="left:1516px;top:242px;width:221px;height:72px;background:#3dae66;border-radius:10px;"></div>
<div class="a" style="left:1755.2px;top:242px;width:220.8px;height:72px;background:#344559;border-radius:10px;"></div>
<div class="t b" style="left:1579.48px;top:267px;font-size:22px;color:#c8eed3;transform:scaleX(0.9808);">Yes</div>
<div class="t b" style="left:1625.66px;top:263px;font-size:27.5px;transform:scaleX(1.0163);">56¢</div>
<div class="t b" style="left:1821.43px;top:267px;font-size:22px;color:#7a8692;transform:scaleX(1.0255);">No</div>
<div class="t b" style="left:1861.18px;top:263px;font-size:27.5px;color:#7a8692;transform:scaleX(1.0069);">47¢</div>
<div class="t b" style="left:1516.13px;top:373px;font-size:25px;color:#f4f6fa;transform:scaleX(0.9454);">Amount</div>
<div class="t" style="left:1515.38px;top:406px;font-size:18.3px;color:#858e98;letter-spacing:0.21px;transform:scaleX(1.0590);-webkit-text-stroke:0.46px;">Balance $0.46</div>
<div class="t" style="left:1901.26px;top:367px;font-size:66px;color:#7a8593;letter-spacing:0.9px;transform:scaleX(0.9752);-webkit-text-stroke:2px;">$0</div>
<div class="a" style="left:1974.6px;top:364.7px;width:1.4px;height:69px;background:#fff;"></div>
<div class="a" style="left:1644px;top:461.1px;width:64.8px;height:44.5px;background:#3a4d63;border-radius:10px;"></div>
<div class="t b" style="left:1658.39px;top:473px;font-size:20px;transform:scaleX(1.0153);">+$1</div>
<div class="a" style="left:1721.1px;top:461.1px;width:75.9px;height:44.5px;background:#3a4d63;border-radius:10px;"></div>
<div class="t b" style="left:1735.05px;top:473px;font-size:20px;transform:scaleX(1.0568);">+$20</div>
<div class="a" style="left:1809px;top:461.1px;width:86.8px;height:44.5px;background:#3a4d63;border-radius:10px;"></div>
<div class="t b" style="left:1823.07px;top:473px;font-size:20px;transform:scaleX(1.0339);">+$100</div>
<div class="a" style="left:1907.9px;top:461.1px;width:68.1px;height:44.5px;background:#3a4d63;border-radius:10px;"></div>
<div class="t b" style="left:1922.65px;top:473px;font-size:20px;transform:scaleX(0.9604);">Max</div>
<div class="a" style="left:1516px;top:530.2px;width:460px;height:64.3px;background:#2d9cdb;border-radius:10px;box-shadow:0 7px 0 #2880b8;"></div>
<div class="t b" style="left:1702.48px;top:554px;font-size:22.5px;transform:scaleX(0.9686);">Buy Yes</div>
<div class="t" style="left:1556.65px;top:656px;font-size:18.5px;color:#858e98;letter-spacing:0.21px;transform:scaleX(1.0659);-webkit-text-stroke:0.46px;">By trading, you agree to the <span style="text-decoration:underline;text-underline-offset:2px;text-decoration-thickness:1px">Terms of Use</span>.</div>
<div class="a" style="left:1509px;top:720px;width:473px;height:0;border-top:1px dashed #3a4b5e"></div>
<div class="a" style="left:1497px;top:757px;width:62px;height:48px;background:#314256;border-radius:13px;"></div>
<div class="t b" style="left:1514.77px;top:771px;font-size:22.5px;transform:scaleX(0.9561);">All</div>
<div class="t" style="left:1589.13px;top:771px;font-size:22.5px;color:#8999af;letter-spacing:0.25px;transform:scaleX(1.0285);-webkit-text-stroke:0.56px;">Politics</div>
<div class="t" style="left:1714.08px;top:771px;font-size:22.5px;color:#8999af;letter-spacing:0.25px;transform:scaleX(1.0322);-webkit-text-stroke:0.56px;">World</div>
<div class="t" style="left:1823.54px;top:771px;font-size:22.5px;color:#8999af;letter-spacing:0.25px;transform:scaleX(1.0123);-webkit-text-stroke:0.56px;">Global Elections</div>
<div class="a" style="left:1930px;top:760px;width:71px;height:44px;background:linear-gradient(90deg,rgba(29,43,57,0),#1d2b39 95%)"></div>
<svg style="left:1512px;top:841px" width="60" height="60" viewBox="0 0 60 60"><g clip-path="url(#c60b)"><rect width="60" height="60" fill="#12309c"/><g filter="url(#bl2)"><rect x="0" y="6" width="12" height="12" fill="#7f97d2"/><rect x="48" y="0" width="14" height="20" fill="#3a5cc0"/><rect x="-2" y="27" width="64" height="6" fill="#6f87c8"/><rect x="-2" y="34" width="64" height="18" fill="#0a1c78"/></g><g filter="url(#bl)"><path d="M-2 62V52c6-2 12-5 18-9h28c6 4 11 6 18 9v10z" fill="#1e2a5c"/><path d="M16 62V43l13 12 15-12v19z" fill="#e6e2e8"/><path d="M23 62l5-6h5l5 6z" fill="#4a2448"/><ellipse cx="31" cy="16" rx="20.500" ry="18" fill="#a9a49c"/><ellipse cx="11" cy="24" rx="2.800" ry="6" fill="#c79a82"/><path d="M31 3C44.125 3 48.5 12.1 48.5 26.4C48.5 40.7 40.625 55 31 55C21.375 55 13.5 40.7 13.5 26.4C13.5 12.1 17.875 3 31 3z" fill="url(#skin2)"/><path d="M21 46c3 4 7 6 10 6s8-2 11-6c-2 7-6 11-11 11s-8-4-10-11z" fill="#8b7d74"/><path d="M21 18h9M34 18h9" stroke="#5a4238" stroke-width="1.800"/><path d="M22 22h6M35 22h6" stroke="#3a2a26" stroke-width="1.300"/><path d="M27 37h9" stroke="#8a5a52" stroke-width="1.500"/><path d="M31 22v8" stroke="#a97f68" stroke-width="2.500"/></g></g></svg>
<div class="t" style="left:1587.5px;top:848px;font-size:19.7px;color:#f4f6fa;letter-spacing:0.45px;transform:scaleX(1.0394);-webkit-text-stroke:1px;">Will Andrej Babiš be the next</div>
<div class="t" style="left:1586.55px;top:876px;font-size:19.7px;color:#f4f6fa;letter-spacing:0.45px;transform:scaleX(1.0477);-webkit-text-stroke:1px;">Prime Minister of the Czech<span style="display:inline-block;width:0.556em;transform:scaleX(0.556);transform-origin:0 50%">…</span></div>
<div class="t" style="left:1924.05px;top:858px;font-size:27.5px;color:#f4f6fa;letter-spacing:0.5px;transform:scaleX(0.9710);-webkit-text-stroke:1.1px;">96%</div>
<svg style="left:1512px;top:937px" width="60" height="60" viewBox="0 0 60 60"><g clip-path="url(#c60b)"><rect width="60" height="60" fill="#e6e8f1"/><g filter="url(#bl2)"><rect x="-3" y="-3" width="25" height="66" fill="#8b8a92"/><rect x="4" y="10" width="15" height="30" fill="#8d4a49"/><rect x="-3" y="38" width="22" height="22" fill="#d3c8b2"/><rect x="16" y="28" width="6" height="24" fill="#6a5a52"/></g><g filter="url(#bl)"><path d="M57 62V12c2 0 4 1 5 2v48z" fill="#15161c"/><path d="M8 62c4-6 10-10 18-13l4 13z" fill="#20386a"/><path d="M47 62l1-15c4 2 7 4 9 7v8z" fill="#101420"/><path d="M25 62V46l12 5 12-5v16z" fill="#dedeea"/><path d="M32 49h8l-2 4 1 9h-6l1-9z" fill="#2f6f79"/><ellipse cx="39.500" cy="15" rx="15" ry="13.500" fill="#2a2523"/><ellipse cx="25.500" cy="25" rx="2" ry="4" fill="#c09078"/><path d="M39 11C48.375 11 51.5 17.3 51.5 27.2C51.5 37.1 45.875 47 39 47C32.125 47 26.5 37.1 26.5 27.2C26.5 17.3 29.625 11 39 11z" fill="url(#skin2)"/><path d="M27 18c3-6 8-8 13-8 5 0 9 3 12 8-4-3-8-4-12-4-5 0-9 1-13 4z" fill="#2a2523"/><path d="M31 21h7M43 22h6" stroke="#3a2a28" stroke-width="1.600"/><ellipse cx="41.500" cy="32" rx="3.500" ry="1.300" fill="#6a3a38"/><path d="M34 40c3 3 8 3 12 0-1 5-4 7-6 7s-5-2-6-7z" fill="#9a7260"/></g></g></svg>
<div class="t" style="left:1587.5px;top:944px;font-size:19.7px;color:#f4f6fa;letter-spacing:0.45px;transform:scaleX(1.0423);-webkit-text-stroke:1px;">Will Rob Jetten become the next</div>
<div class="t" style="left:1586.55px;top:972px;font-size:19.7px;color:#f4f6fa;letter-spacing:0.45px;transform:scaleX(1.0480);-webkit-text-stroke:1px;">Prime Minister of the<span style="display:inline-block;width:0.556em;transform:scaleX(0.556);transform-origin:0 50%">…</span></div>
<div class="t" style="left:1924.05px;top:954px;font-size:27.5px;color:#f4f6fa;letter-spacing:0.5px;transform:scaleX(0.9710);-webkit-text-stroke:1.1px;">95%</div>
<svg style="left:1512px;top:1033px" width="60" height="60" viewBox="0 0 60 60"><g clip-path="url(#c60b)"><rect width="60" height="60" fill="#a3a3a6"/><g filter="url(#bl2)"><path d="M-2 4l10 18-4 8-6 2z" fill="#e6e2e6"/><path d="M-2 30c4-3 8-5 11-6l4 6-15 30z" fill="#c4202c"/><rect x="41" y="10" width="22" height="30" fill="#2c2622"/><rect x="44" y="13" width="20" height="24" fill="#c69c5e"/><ellipse cx="54" cy="25" rx="5" ry="6" fill="#a88a9c"/></g><g filter="url(#bl)"><path d="M1 62c0-14 4-26 10-30 4-2 9-4 12-5h12c5 2 12 4 17 8 4 5 6 14 6 27z" fill="#6b6f7c"/><path d="M23 28l5 6 6-7 2 6-6 8-8-6z" fill="#2a2a30"/><path d="M25 36l4-3 3 4 1 25h-10z" fill="#8c8463"/><path d="M24 44l8-3M24 50l9-3M23 56l10-3" stroke="#3a3830" stroke-width="1.500"/><ellipse cx="29.500" cy="11" rx="10.500" ry="9" fill="#aaa49c"/><path d="M29 5.5C36.125 5.5 38.5 9.525 38.5 15.85C38.5 22.175 34.225 28.5 29 28.5C23.775 28.5 19.5 22.175 19.5 15.85C19.5 9.525 21.875 5.5 29 5.5z" fill="url(#skin2)"/><path d="M23 13.500h5M31 13.500h5" stroke="#4a3a34" stroke-width="1.300"/><path d="M26 21h6" stroke="#8a4a44" stroke-width="1.200"/></g></g></svg>
<div class="t" style="left:1587.5px;top:1040px;font-size:19.7px;color:#f4f6fa;letter-spacing:0.45px;transform:scaleX(1.0256);-webkit-text-stroke:1px;">Will Dr ‘Aisake Valu Eke be the</div>
<div class="t" style="left:1586.17px;top:1068px;font-size:19.7px;color:#f4f6fa;letter-spacing:0.45px;transform:scaleX(1.0424);-webkit-text-stroke:1px;">next Prime Minister of Tonga<span style="display:inline-block;width:0.556em;transform:scaleX(0.556);transform-origin:0 50%">…</span></div>
<div class="t" style="left:1924.05px;top:1050px;font-size:27.5px;color:#f4f6fa;letter-spacing:0.5px;transform:scaleX(0.9710);-webkit-text-stroke:1.1px;">93%</div>
</div>
</body>
</html>
